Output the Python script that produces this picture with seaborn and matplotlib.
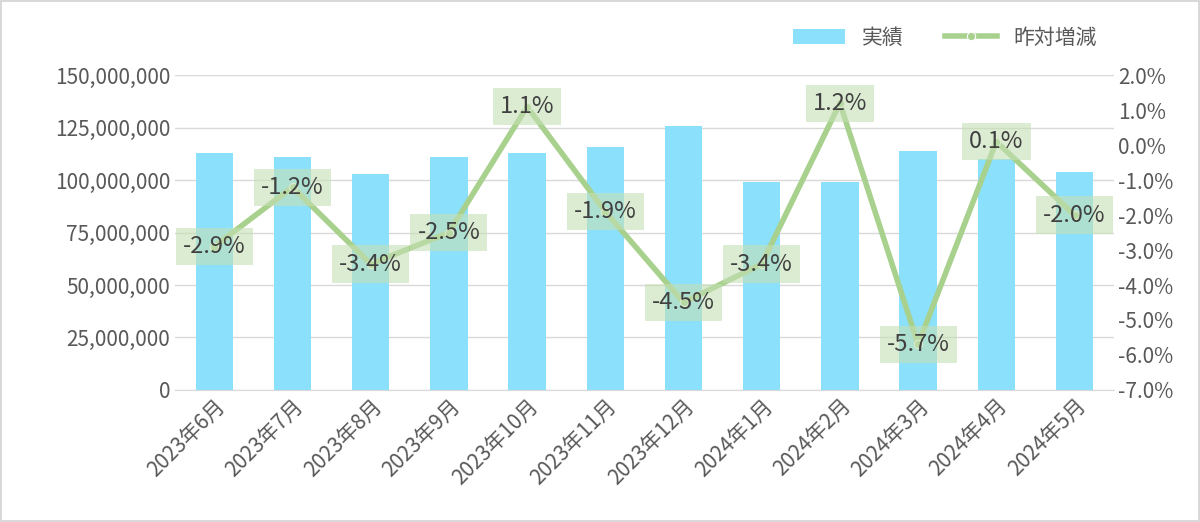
import matplotlib
matplotlib.use("Agg")
import matplotlib.pyplot as plt
import seaborn as sns
import pandas as pd
import numpy as np
from matplotlib.ticker import FuncFormatter, MultipleLocator

months = ["2023年6月","2023年7月","2023年8月","2023年9月","2023年10月","2023年11月",
          "2023年12月","2024年1月","2024年2月","2024年3月","2024年4月","2024年5月"]
actual = [113e6, 111e6, 103e6, 111e6, 113e6, 116e6, 126e6, 99e6, 99e6, 114e6, 110e6, 104e6]
yoy = [-2.9, -1.2, -3.4, -2.5, 1.1, -1.9, -4.5, -3.4, 1.2, -5.7, 0.1, -2.0]

plt.rcParams["font.family"] = "Noto Sans CJK JP"
df = pd.DataFrame({"month": months, "actual": actual, "yoy": yoy})

fig = plt.figure(figsize=(12, 5.22), dpi=100)
fig.patch.set_edgecolor("#d9d9d9"); fig.patch.set_linewidth(1.5)
ax = fig.add_axes([0.146, 0.253, 0.782, 0.603])
sns.barplot(data=df, x="month", y="actual", color="#8be0fb", width=0.48, ax=ax, saturation=1, label="実績")
ax.set_ylim(0, 150e6)
ax.yaxis.set_major_locator(MultipleLocator(25e6))
ax.yaxis.set_major_formatter(FuncFormatter(lambda v, p: f"{v:,.0f}"))
ax.grid(axis="y", color="#d9d9d9", lw=1); ax.set_axisbelow(True)
for s in ax.spines.values(): s.set_visible(False)
ax.spines["bottom"].set_visible(True); ax.spines["bottom"].set_color("#d9d9d9")
ax.tick_params(length=0, labelsize=15, colors="#595959")
ax.set_xlabel(""); ax.set_ylabel("")
plt.setp(ax.get_xticklabels(), rotation=45, ha="right", rotation_mode="anchor")
ax.set_xlim(-0.5, len(months) - 0.5)

ax2 = ax.twinx()
x = np.arange(len(months))
sns.lineplot(x=x, y=yoy, color="#a9d18e", lw=4, marker="o", markersize=6, ax=ax2, label="昨対増減")
ax2.set_ylim(-7, 2)
ax2.yaxis.set_major_locator(MultipleLocator(1))
ax2.yaxis.set_major_formatter(FuncFormatter(lambda v, p: f"{v:.1f}%"))
for s in ax2.spines.values(): s.set_visible(False)
ax2.tick_params(length=0, labelsize=15, colors="#595959")
for xi, v in zip(x, yoy):
    ax2.text(xi, v, f"{v:.1f}%", ha="center", va="center", fontsize=17, color="#404040",
             bbox=dict(boxstyle="square,pad=0.3", fc="#c5e0b4", ec="none", alpha=0.6))
ax2.set_xlim(-0.5, len(months) - 0.5)

h1, l1 = ax.get_legend_handles_labels()
h2, l2 = ax2.get_legend_handles_labels()
ax2.get_legend().remove() if ax2.get_legend() else None
if ax.get_legend(): ax.get_legend().remove()
fig.legend(h1 + h2, l1 + l2, loc="upper right", bbox_to_anchor=(0.93, 0.985), ncol=2,
           frameon=False, fontsize=15, labelcolor="#595959", handlelength=2.5)
fig.savefig("out.png", dpi=100)
